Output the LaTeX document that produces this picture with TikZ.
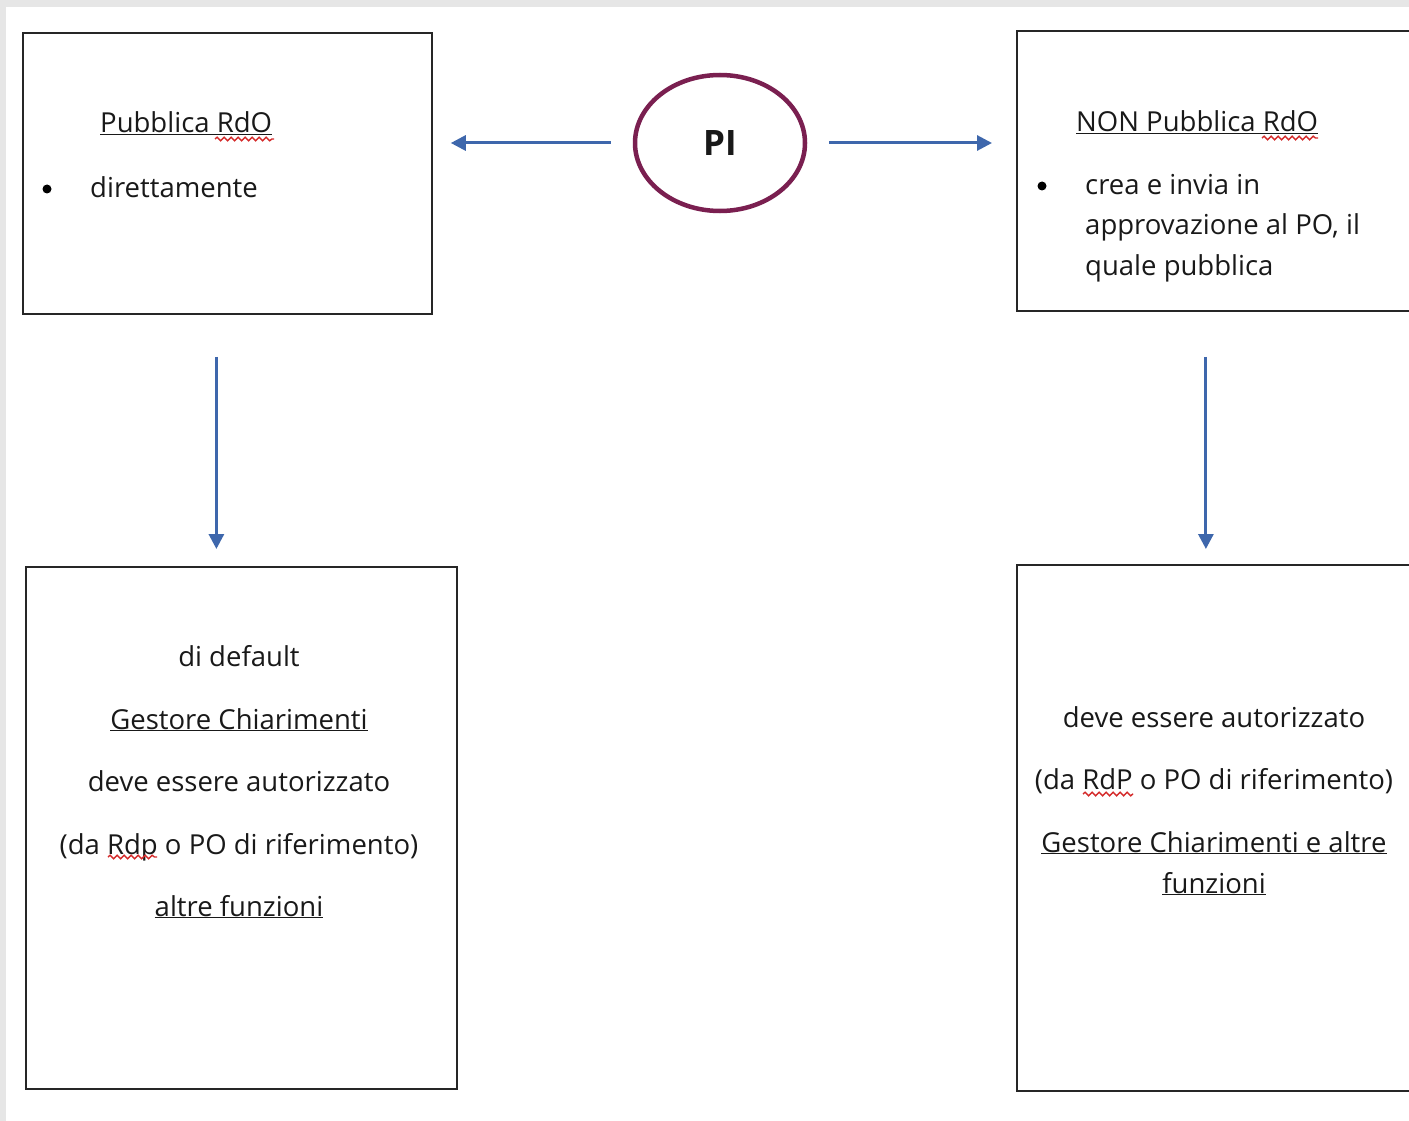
\documentclass[tikz,border=0pt]{standalone}
\usepackage{fontspec}
\setmainfont{Open Sans}
\usetikzlibrary{
  arrows.meta,
  positioning,
  shapes.geometric,
  decorations.pathmorphing
}
\usepackage{xcolor}
\definecolor{piblue}{HTML}{3E67AC}
\definecolor{pimaroon}{HTML}{7A1F50}
\definecolor{pigrey}{HTML}{E6E6E6}
\definecolor{spellred}{HTML}{D42A2A}

\begin{document}
\begin{tikzpicture}[
  x=1pt, y=-1pt,
  every node/.style={font=\fontsize{27.5pt}{40pt}\selectfont, inner sep=0pt, text=black!90},
  box/.style={draw=black!85, line width=1.8pt, anchor=north west},
  dot/.style={circle, fill=black, minimum size=9pt},
  flow/.style={-{Triangle[length=15pt,width=15pt]}, line width=3pt, piblue},
  spell/.style={spellred, line width=1.4pt, decorate,
    decoration={snake, amplitude=1.8pt, segment length=7pt}}
]
  % page
  \fill[pigrey] (0,0) rectangle (1409,1121);
  \fill[white] (6,7) rectangle (1409,1121);
  \clip (0,0) rectangle (1409,1121);

  % Boxes
  \node[box, minimum width=409pt, minimum height=281pt] (pub) at (22,32) {};
  \node[box, minimum width=420pt, minimum height=280pt] (nonpub) at (1016,30) {};
  \node[box, minimum width=431pt, minimum height=522pt] (gestA) at (25,566) {};
  \node[box, minimum width=420pt, minimum height=526pt] (gestB) at (1016,564) {};

  % PI
  \node[ellipse, draw=pimaroon, line width=4.5pt, minimum width=170pt, minimum height=136pt,
    font=\bfseries\fontsize{35pt}{40pt}\selectfont] (pi) at (720,143) {PI};

  % Pubblica RdO
  \node[anchor=base west] (pubtitle) at (100,133) {\underline{Pubblica RdO}};
  \node[dot] (pubdot) at (47,189) {};
  \node[anchor=base west] (pubtext) at (90,197) {direttamente};

  % NON Pubblica RdO
  \node[anchor=base west] (nonpubtitle) at (1076,132) {\underline{NON Pubblica RdO}};
  \node[dot] (nonpubdot) at (1042,186) {};
  \node[anchor=base west] (nonpubA) at (1085,194) {crea e invia in};
  \node[anchor=base west] (nonpubB) at (1085,234) {approvazione al PO, il};
  \node[anchor=base west] (nonpubC) at (1085,275) {quale pubblica};

  % left bottom box
  \node[anchor=base] (gestA1) at (239,666) {di default};
  \node[anchor=base] (gestA2) at (239,729) {\underline{Gestore Chiarimenti}};
  \node[anchor=base] (gestA3) at (239,791) {deve essere autorizzato};
  \node[anchor=base] (gestA4) at (239,854) {(da Rdp o PO di riferimento)};
  \node[anchor=base] (gestA5) at (239,916) {\underline{altre funzioni}};

  % right bottom box
  \node[anchor=base] (gestB1) at (1214,727) {deve essere autorizzato};
  \node[anchor=base] (gestB2) at (1214,789) {(da RdP o PO di riferimento)};
  \node[anchor=base] (gestB3) at (1214,852) {\underline{Gestore Chiarimenti e altre}};
  \node[anchor=base] (gestB4) at (1214,893) {\underline{funzioni}};

  % spell marks
  \draw[spell] (215,139) -- (274,139);
  \draw[spell] (1262,138) -- (1318,138);
  \draw[spell] (108,857) -- (157,857);
  \draw[spell] (1083,794) -- (1133,794);

  % Arrows
  \draw[flow, shorten <=22pt, shorten >=18pt] (pi.west) -- (pi.west -| pub.east);
  \draw[flow, shorten <=22pt, shorten >=24pt] (pi.east) -- (pi.east -| nonpub.west);
  \draw[flow, shorten <=42pt, shorten >=17pt] ([xshift=-11pt]pub.south)
    -- ([xshift=-11pt]pub.south |- gestA.north);
  \draw[flow, shorten <=45pt, shorten >=15pt] ([xshift=-21pt]nonpub.south)
    -- ([xshift=-21pt]nonpub.south |- gestB.north);
\end{tikzpicture}
\end{document}
